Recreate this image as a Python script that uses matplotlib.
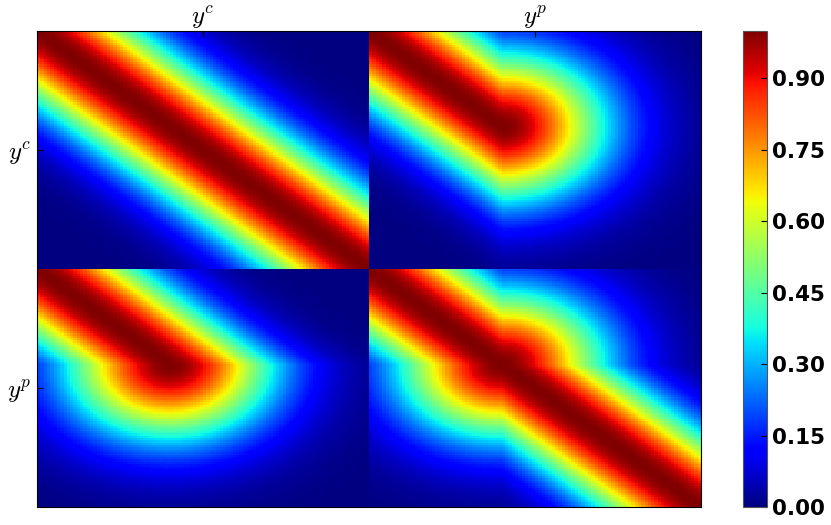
import numpy as np
import matplotlib
matplotlib.use('Agg')
import matplotlib.pyplot as plt

plt.rcParams['mathtext.fontset'] = 'cm'

# inputs of the two outputs: y^c lies on a straight line, y^p follows it
# up to the turning point and then leaves it at a right angle
n_points = 100
turn_point = 0.4
lengthscale = 0.22
block_labels = ['$y^c$', '$y^p$']
cbar_ticks = [0.00, 0.15, 0.30, 0.45, 0.60, 0.75, 0.90]

t = np.linspace(0, 1, n_points)
x_c = np.column_stack([t, np.zeros_like(t)])
x_p = np.column_stack([np.minimum(t, turn_point), np.maximum(t - turn_point, 0)])
X = np.vstack([x_c, x_p])

d2 = ((X[:, None, :] - X[None, :, :]) ** 2).sum(-1)
K = np.exp(-d2 / (2 * lengthscale ** 2))

fig = plt.figure(figsize=(8.31, 5.25), dpi=100)
ax = fig.add_axes([0.0445, 0.0343, 0.799, 0.907])
cax = fig.add_axes([0.894, 0.0343, 0.0289, 0.907])

n = K.shape[0]
mesh = ax.pcolormesh(np.arange(n + 1), np.arange(n + 1), K, cmap='jet',
                     vmin=0, vmax=1, shading='flat')
ax.set_xlim(0, n)
ax.set_ylim(n, 0)

centers = [n_points / 2, n_points + n_points / 2]
ax.xaxis.tick_top()
ax.set_xticks(centers)
ax.set_xticklabels(block_labels, fontsize=18)
ax.set_yticks(centers)
ax.set_yticklabels(block_labels, fontsize=18)
ax.tick_params(direction='in', length=4, pad=4)
ax.tick_params(axis='x', pad=0)

cb = fig.colorbar(mesh, cax=cax, ticks=cbar_ticks)
cb.ax.set_yticklabels(['%.2f' % v for v in cbar_ticks], fontsize=15.5, fontweight='bold')
cb.ax.tick_params(direction='in', length=4, pad=4)
cb.outline.set_edgecolor('#555555')

fig.savefig('out.png', dpi=100)
